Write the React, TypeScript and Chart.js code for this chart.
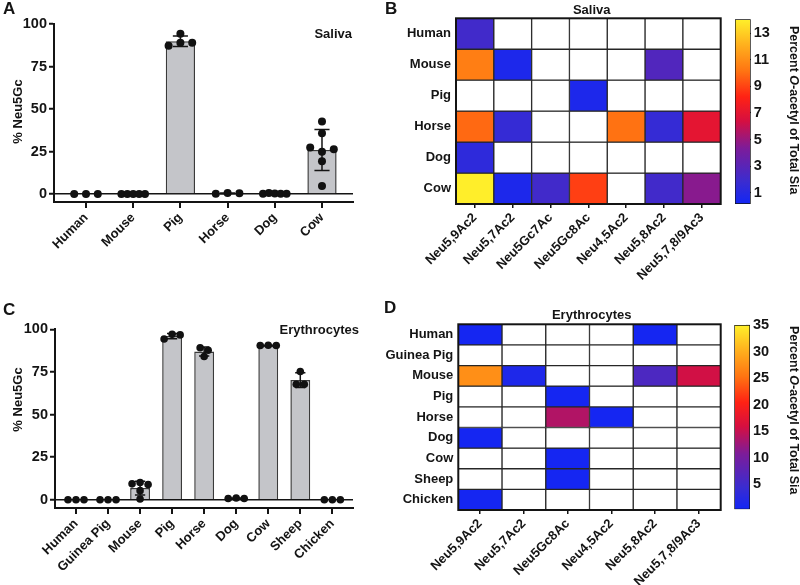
import React, { useEffect, useRef } from 'react';
import { Chart, registerables } from 'chart.js';

Chart.register(...registerables);

const FONT = "'Liberation Sans', Arial, Helvetica, sans-serif";
const INK = '#141414';
Chart.defaults.font.family = FONT;
Chart.defaults.color = INK;

// ---------- Panel A: saliva % Neu5Gc ----------
const salivaSpecies = ['Human', 'Mouse', 'Pig', 'Horse', 'Dog', 'Cow'];
const salivaHuman = [0, 0, 0];
const salivaMouse = [0, 0, 0, 0, 0];
const salivaPig = [94.3, 87.2, 89.0, 89.0];
const salivaHorse = [0.2, 0.6, 0.4];
const salivaDog = [0.2, 0.6, 0.3, 0.2, 0.2];
const salivaCow = [42.6, 35.8, 27.3, 24.9, 26.3, 19.3, 4.7];

// ---------- Panel C: erythrocytes % Neu5Gc ----------
const erySpecies = ['Human', 'Guinea Pig', 'Mouse', 'Pig', 'Horse', 'Dog', 'Cow', 'Sheep', 'Chicken'];
const eryHuman = [0, 0, 0];
const eryGuineaPig = [0, 0, 0];
const eryMouse = [9.3, 10.1, 8.9, 5.3, 0.4];
const eryPig = [94.3, 97.1, 96.7];
const eryHorse = [89.2, 87.7, 84.0];
const eryDog = [0.7, 1.0, 0.7];
const eryCow = [90.5, 90.6, 90.5];
const erySheep = [75.2, 67.7, 67.7];
const eryChicken = [0, 0, 0];

const gcTicks = [0, 25, 50, 75, 100];

// ---------- Panel B: saliva O-acetyl heatmap ----------
const salivaOacColumns = ['Neu5,9Ac2', 'Neu5,7Ac2', 'Neu5Gc7Ac', 'Neu5Gc8Ac', 'Neu4,5Ac2', 'Neu5,8Ac2', 'Neu5,7,8/9Ac3'];
const salivaOacRows = ['Human', 'Mouse', 'Pig', 'Horse', 'Dog', 'Cow'];
const salivaOacHuman = [2.1, null, null, null, null, null, null];
const salivaOacMouse = [10.5, 0.6, null, null, null, 2.7, null];
const salivaOacPig = [null, null, null, 0.6, null, null, null];
const salivaOacHorse = [9.9, 1.6, null, null, 10.1, 1.6, 7.0];
const salivaOacDog = [1.3, null, null, null, null, null, null];
const salivaOacCow = [14.0, 0.6, 2.1, 8.9, null, 2.1, 4.6];
const salivaScaleMin = 0.15;
const salivaScaleMax = 14.05;
const salivaScaleTicks = [1, 3, 5, 7, 9, 11, 13];

// ---------- Panel D: erythrocyte O-acetyl heatmap ----------
const eryOacColumns = ['Neu5,9Ac2', 'Neu5,7Ac2', 'Neu5Gc8Ac', 'Neu4,5Ac2', 'Neu5,8Ac2', 'Neu5,7,8/9Ac3'];
const eryOacRows = ['Human', 'Guinea Pig', 'Mouse', 'Pig', 'Horse', 'Dog', 'Cow', 'Sheep', 'Chicken'];
const eryOacHuman = [0.6, null, null, null, 0.6, null];
const eryOacGuineaPig = [null, null, null, null, null, null];
const eryOacMouse = [27.5, 1.5, null, null, 6.2, 15.6];
const eryOacPig = [null, null, 0.6, null, null, null];
const eryOacHorse = [null, null, 13.8, 0.6, null, null];
const eryOacDog = [0.6, null, null, null, null, null];
const eryOacCow = [null, null, 0.6, null, null, null];
const eryOacSheep = [null, null, 0.6, null, null, null];
const eryOacChicken = [0.6, null, null, null, null, null];
const eryScaleMin = 0.3;
const eryScaleMax = 35;
const eryScaleTicks = [5, 10, 15, 20, 25, 30, 35];

// ---------- styling helpers ----------
const HEAT_STOPS: [number, string][] = [
  [0.0, '#1226f5'],
  [0.12, '#3a2cd0'],
  [0.3, '#7c1c9a'],
  [0.45, '#d60f40'],
  [0.58, '#ff2214'],
  [0.72, '#ff7412'],
  [0.87, '#ffb41e'],
  [1.0, '#fff02a'],
];

function hexToRgb(h: string) {
  const n = parseInt(h.slice(1), 16);
  return [(n >> 16) & 255, (n >> 8) & 255, n & 255];
}

function heatColor(f: number) {
  const t = Math.max(0, Math.min(1, f));
  for (let i = 1; i < HEAT_STOPS.length; i++) {
    const [f1, c1] = HEAT_STOPS[i];
    if (t <= f1) {
      const [f0, c0] = HEAT_STOPS[i - 1];
      const u = (t - f0) / (f1 - f0);
      const a = hexToRgb(c0);
      const b = hexToRgb(c1);
      return `rgb(${a.map((v, k) => Math.round(v + (b[k] - v) * u)).join(',')})`;
    }
  }
  return HEAT_STOPS[HEAT_STOPS.length - 1][1];
}

function mean(v: number[]) {
  return v.reduce((s, x) => s + x, 0) / v.length;
}
function sd(v: number[]) {
  if (v.length < 2) return 0;
  const m = mean(v);
  return Math.sqrt(v.reduce((s, x) => s + (x - m) * (x - m), 0) / (v.length - 1));
}

// Prism-like dot arrangement: values closer than one dot diameter share a row
function swarm(values: number[], idx: number) {
  const thresh = 4.5;
  const step = 0.25;
  const maxSpread = 0.5;
  const order = values.map((_, k) => k).sort((a, b) => values[b] - values[a]);
  const groups: number[][] = [];
  let cur: number[] = [];
  let start = NaN;
  for (const k of order) {
    if (cur.length && start - values[k] <= thresh) cur.push(k);
    else {
      if (cur.length) groups.push(cur);
      cur = [k];
      start = values[k];
    }
  }
  if (cur.length) groups.push(cur);
  const pts: { x: number; y: number }[] = [];
  for (const g of groups) {
    g.sort((a, b) => a - b);
    const n = g.length;
    const s = n > 1 ? Math.min(step, maxSpread / (n - 1)) : 0;
    g.forEach((k, j) => pts.push({ x: idx + (j - (n - 1) / 2) * s, y: values[k] }));
  }
  return pts;
}

const boldFont = { size: 13, weight: 'bold' as const, family: FONT };
const numFont = { size: 14.5, weight: 'bold' as const, family: FONT };

function barConfig(species: string[], groups: number[][], W: number, H: number, area: any, yMin: number, xMin: number, xMax: number, radius: number) {
  const means = groups.map(mean);
  const sds = groups.map(sd);
  const cap = 0.16;
  const err: any[] = [];
  means.forEach((m, i) => {
    const s = sds[i];
    if (!(s > 0)) return;
    err.push({ x: i - cap, y: m + s }, { x: i + cap, y: m + s }, { x: i, y: null });
    err.push({ x: i, y: m + s }, { x: i, y: m - s }, { x: i, y: null });
    err.push({ x: i - cap, y: m - s }, { x: i + cap, y: m - s }, { x: i, y: null });
  });
  const pts = groups.flatMap((g, i) => swarm(g, i));
  return {
    type: 'bar',
    data: {
      datasets: [
        { type: 'scatter', data: pts, backgroundColor: '#111', borderColor: '#111', pointRadius: radius, pointBorderWidth: 0, order: 1 },
        { type: 'line', data: err, borderColor: INK, borderWidth: 1.5, pointRadius: 0, spanGaps: false, fill: false, order: 2 },
        {
          type: 'bar',
          data: means.map((m, i) => ({ x: i, y: m })),
          backgroundColor: '#c4c5c9',
          borderColor: '#3a3a3a',
          borderWidth: 1.5,
          barPercentage: 0.62,
          categoryPercentage: 1,
          order: 3,
        },
      ],
    },
    options: {
      responsive: false,
      animation: false,
      events: [],
      layout: { padding: { left: 0, top: area.top, right: W - area.right, bottom: 0 } },
      plugins: { legend: { display: false }, tooltip: { enabled: false } },
      scales: {
        x: {
          type: 'linear',
          min: xMin,
          max: xMax,
          offset: false,
          afterBuildTicks: (s: any) => {
            s.ticks = species.map((_, i) => ({ value: i }));
          },
          afterFit: (s: any) => {
            s.height = H - area.bottom;
          },
          ticks: {
            autoSkip: false,
            minRotation: 45,
            maxRotation: 45,
            padding: 2,
            color: INK,
            font: boldFont,
            callback: (v: any) => species[Math.round(v)] ?? '',
          },
          grid: { display: true, offset: false, drawOnChartArea: false, drawTicks: true, tickLength: 6, color: INK, lineWidth: 2, tickWidth: 2 },
          border: { display: true, color: INK, width: 2 },
        },
        y: {
          type: 'linear',
          min: yMin,
          max: 100,
          afterBuildTicks: (s: any) => {
            s.ticks = gcTicks.map((v) => ({ value: v }));
          },
          afterFit: (s: any) => {
            s.width = area.left;
          },
          ticks: { padding: 2, color: INK, font: numFont },
          grid: {
            color: (c: any) => (c.tick && c.tick.value === 0 ? INK : 'rgba(0,0,0,0)'),
            tickColor: INK,
            lineWidth: 1.5,
            tickWidth: 2,
            tickLength: 5,
            drawTicks: true,
          },
          border: { display: true, color: INK, width: 2 },
        },
      },
    },
  };
}

const framePlugin = {
  id: 'frame',
  afterDatasetsDraw(chart: any) {
    const { ctx, chartArea: a } = chart;
    ctx.save();
    ctx.strokeStyle = INK;
    ctx.lineWidth = 2;
    ctx.strokeRect(a.left, a.top, a.right - a.left, a.bottom - a.top);
    ctx.restore();
  },
};

function heatConfig(cols: string[], rows: string[], matrix: (number | null)[][], vmin: number, vmax: number, W: number, H: number, area: any) {
  return {
    type: 'bar',
    data: {
      labels: cols,
      datasets: matrix.map((vals, r) => ({
        data: cols.map(() => [r, r + 1]),
        backgroundColor: vals.map((v) => (v == null ? '#ffffff' : heatColor((v - vmin) / (vmax - vmin)))),
        borderColor: '#262626',
        borderWidth: 1,
        borderSkipped: false,
        barPercentage: 1,
        categoryPercentage: 1,
        grouped: false,
        xAxisID: 'x',
        yAxisID: 'y',
      })),
    },
    options: {
      responsive: false,
      animation: false,
      events: [],
      layout: { padding: { left: 0, top: area.top, right: W - area.right, bottom: 0 } },
      plugins: { legend: { display: false }, tooltip: { enabled: false } },
      scales: {
        x: {
          type: 'category',
          offset: true,
          afterFit: (s: any) => {
            s.height = H - area.bottom;
          },
          grid: { display: true, offset: false, drawOnChartArea: false, drawTicks: true, tickLength: 4, color: INK, lineWidth: 1.5 },
          border: { display: false },
          ticks: { autoSkip: false, minRotation: 45, maxRotation: 45, padding: 2, color: INK, font: boldFont },
        },
        y: { type: 'linear', display: false, min: 0, max: rows.length, reverse: true },
        rows: {
          type: 'category',
          axis: 'y',
          labels: rows,
          position: 'left',
          offset: true,
          afterFit: (s: any) => {
            s.width = area.left;
          },
          grid: { display: false, drawTicks: false },
          border: { display: false },
          ticks: { padding: 5, color: INK, font: boldFont, autoSkip: false },
        },
      },
    },
    plugins: [framePlugin],
  };
}

function colorbarConfig(vmin: number, vmax: number, ticks: number[], W: number, H: number, area: any) {
  return {
    type: 'bar',
    data: {
      labels: [''],
      datasets: [
        {
          data: [[vmin, vmax]],
          backgroundColor: (c: any) => {
            const a = c.chart.chartArea;
            if (!a) return '#ffffff';
            const g = c.chart.ctx.createLinearGradient(0, a.bottom, 0, a.top);
            HEAT_STOPS.forEach(([f, col]) => g.addColorStop(f, col));
            return g;
          },
          borderColor: INK,
          borderWidth: 1,
          borderSkipped: false,
          barPercentage: 1,
          categoryPercentage: 1,
        },
      ],
    },
    options: {
      responsive: false,
      animation: false,
      events: [],
      layout: { padding: { left: area.left, top: area.top, right: 0, bottom: H - area.bottom } },
      plugins: { legend: { display: false }, tooltip: { enabled: false } },
      scales: {
        x: { display: false },
        y: {
          position: 'right',
          min: vmin,
          max: vmax,
          z: 1,
          afterBuildTicks: (s: any) => {
            s.ticks = ticks.map((v) => ({ value: v }));
          },
          afterFit: (s: any) => {
            s.width = W - area.right;
          },
          grid: { drawOnChartArea: false, drawTicks: true, tickLength: -4, tickColor: '#333', tickWidth: 1.2 },
          border: { display: false },
          ticks: { padding: 7, color: INK, font: numFont },
        },
      },
    },
  };
}

function ChartCanvas({ x, y, w, h, make }: { x: number; y: number; w: number; h: number; make: () => any }) {
  const ref = useRef<HTMLCanvasElement>(null);
  useEffect(() => {
    const chart = new Chart(ref.current as HTMLCanvasElement, make());
    return () => chart.destroy();
  }, []);
  return <canvas ref={ref} width={w} height={h} style={{ position: 'absolute', left: x, top: y, width: w, height: h }} />;
}

function TextAt({ x, y, size = 13, align = 'left', children }: any) {
  const base: any = {
    position: 'absolute',
    top: y - 0.8465 * size,
    fontSize: size,
    lineHeight: `${size}px`,
    fontWeight: 'bold',
    fontFamily: FONT,
    whiteSpace: 'nowrap',
    color: INK,
  };
  if (align === 'right') Object.assign(base, { left: x - 600, width: 600, textAlign: 'right' });
  else if (align === 'center') Object.assign(base, { left: x - 300, width: 600, textAlign: 'center' });
  else base.left = x;
  return <div style={base}>{children}</div>;
}

function VText({ cx, cy, size = 13, deg, children }: any) {
  return (
    <div
      style={{
        position: 'absolute',
        left: cx - 150,
        top: cy - size / 2,
        width: 300,
        height: size,
        lineHeight: `${size}px`,
        fontSize: size,
        fontWeight: 'bold',
        fontFamily: FONT,
        textAlign: 'center',
        whiteSpace: 'nowrap',
        color: INK,
        transform: `rotate(${deg}deg)`,
        transformOrigin: '50% 50%',
      }}
    >
      {children}
    </div>
  );
}

export default function App() {
  const salivaGroups = [salivaHuman, salivaMouse, salivaPig, salivaHorse, salivaDog, salivaCow];
  const eryGroups = [eryHuman, eryGuineaPig, eryMouse, eryPig, eryHorse, eryDog, eryCow, erySheep, eryChicken];
  const salivaMatrix = [salivaOacHuman, salivaOacMouse, salivaOacPig, salivaOacHorse, salivaOacDog, salivaOacCow];
  const eryMatrix = [eryOacHuman, eryOacGuineaPig, eryOacMouse, eryOacPig, eryOacHorse, eryOacDog, eryOacCow, eryOacSheep, eryOacChicken];
  const oTitle = (
    <span>
      Percent <i>O</i>-acetyl of Total Sia
    </span>
  );
  return (
    <div style={{ position: 'absolute', left: 0, top: 0, width: 800, height: 585, background: '#fff', overflow: 'hidden' }}>
      <ChartCanvas x={0} y={0} w={375} h={290} make={() => barConfig(salivaSpecies, salivaGroups, 375, 290, { left: 54, top: 24, right: 353, bottom: 202 }, -4.7, -0.678, 5.657, 4)} />
      <ChartCanvas x={0} y={290} w={375} h={295} make={() => barConfig(erySpecies, eryGroups, 375, 295, { left: 55, top: 39.3, right: 353, bottom: 218 }, -4.87, -0.655, 8.645, 3.8)} />
      <ChartCanvas x={375} y={0} w={350} h={290} make={() => heatConfig(salivaOacColumns, salivaOacRows, salivaMatrix, salivaScaleMin, salivaScaleMax, 350, 290, { left: 81, top: 18.3, right: 345.7, bottom: 204 })} />
      <ChartCanvas x={375} y={290} w={350} h={295} make={() => heatConfig(eryOacColumns, eryOacRows, eryMatrix, eryScaleMin, eryScaleMax, 350, 295, { left: 83.3, top: 34.3, right: 345.7, bottom: 220 })} />
      <ChartCanvas x={725} y={0} w={75} h={290} make={() => colorbarConfig(salivaScaleMin, salivaScaleMax, salivaScaleTicks, 75, 290, { left: 10, top: 19.3, right: 25.7, bottom: 204 })} />
      <ChartCanvas x={725} y={290} w={75} h={295} make={() => colorbarConfig(eryScaleMin, eryScaleMax, eryScaleTicks, 75, 295, { left: 9.3, top: 35, right: 25, bottom: 219.3 })} />

      <TextAt x={3} y={14} size={17}>A</TextAt>
      <TextAt x={385} y={14} size={17}>B</TextAt>
      <TextAt x={3} y={315} size={17}>C</TextAt>
      <TextAt x={384} y={313.5} size={17}>D</TextAt>

      <TextAt x={352} y={38.3} align="right">Saliva</TextAt>
      <TextAt x={359} y={334.5} align="right">Erythrocytes</TextAt>
      <TextAt x={591.7} y={14} align="center">Saliva</TextAt>
      <TextAt x={591.7} y={319.3} align="center">Erythrocytes</TextAt>

      <VText cx={17} cy={111} deg={-90}>% Neu5Gc</VText>
      <VText cx={17} cy={399.5} deg={-90}>% Neu5Gc</VText>
      <VText cx={794} cy={110} deg={90} size={12.5}>{oTitle}</VText>
      <VText cx={794} cy={410} deg={90} size={12.5}>{oTitle}</VText>
    </div>
  );
}
